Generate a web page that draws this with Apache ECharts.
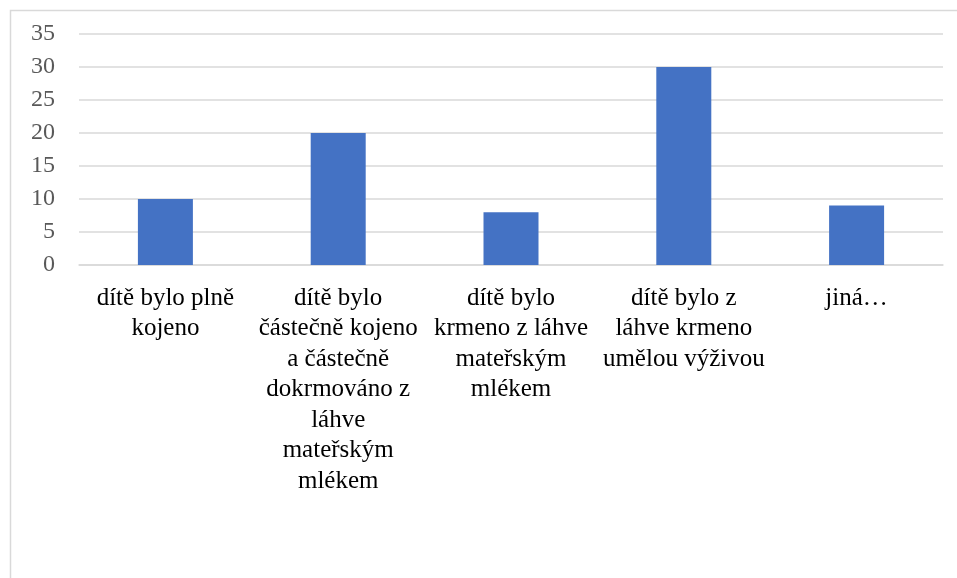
<!DOCTYPE html>
<html>
<head>
<meta charset="utf-8">
<script src="https://cdn.jsdelivr.net/npm/echarts@6/dist/echarts.min.js"></script>
<style>
  html, body { margin: 0; padding: 0; background: #fff; }
  #chart { width: 957px; height: 578px; }
</style>
</head>
<body>
<div id="chart"></div>
<script>
// kategorie (zalomení řádků jako v originále)
const categories = [
  'dítě bylo plně\nkojeno',
  'dítě bylo\nčástečně kojeno\na částečně\ndokrmováno z\nláhve\nmateřským\nmlékem',
  'dítě bylo\nkrmeno z láhve\nmateřským\nmlékem',
  'dítě bylo z\nláhve krmeno\numělou výživou',
  'jiná…'
]
const values = [10, 20, 8, 30, 9]
const yTicks = { min: 0, max: 35, interval: 5 }

const serif = '"Liberation Serif", "DejaVu Serif", serif'

const myChart = echarts.init(document.getElementById('chart'))

const option = {
  animation: false,
  backgroundColor: '#ffffff',
  graphic: [
    {
      type: 'rect',
      shape: { x: 10.5, y: 10.5, width: 960, height: 600 },
      style: { fill: 'none', stroke: '#d9d9d9', lineWidth: 1.5 },
      silent: true,
    },
  ],
  grid: {
    left: 79,
    right: 14,
    top: 34,
    bottom: 313,
  },
  xAxis: {
    type: 'category',
    data: categories,
    axisTick: { show: false },
    axisLine: { lineStyle: { color: '#d9d9d9', width: 1.5 } },
    axisLabel: {
      interval: 0,
      margin: 18,
      color: '#000000',
      fontFamily: serif,
      fontSize: 25,
      lineHeight: 30.5,
      verticalAlign: 'top',
    },
  },
  yAxis: {
    type: 'value',
    min: yTicks.min,
    max: yTicks.max,
    interval: yTicks.interval,
    axisLine: { show: false },
    axisTick: { show: false },
    splitLine: { lineStyle: { color: '#d9d9d9', width: 1.5 } },
    axisLabel: {
      margin: 24,
      color: '#595959',
      fontFamily: serif,
      fontSize: 24,
    },
  },
  series: [
    {
      type: 'bar',
      data: values,
      barWidth: 55,
      itemStyle: { color: '#4472c4' },
    },
  ],
}

myChart.setOption(option)
</script>
</body>
</html>
